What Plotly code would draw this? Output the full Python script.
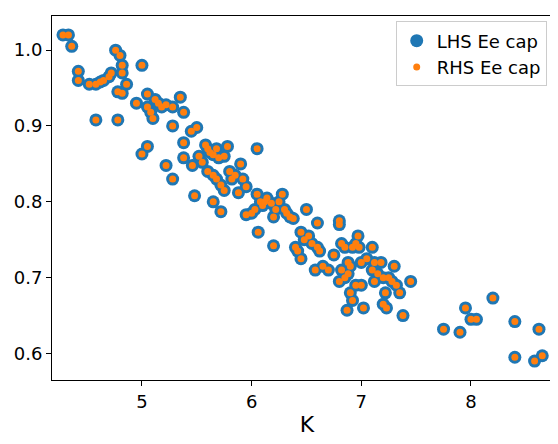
import plotly.graph_objects as go

pts = [(4.28,1.02),(4.33,1.02),(4.36,1.005),(4.42,0.972),(4.42,0.960),(4.52,0.955),(4.58,0.955),(4.62,0.958),(4.65,0.960),(4.70,0.965),(4.72,0.970),(4.76,1.0),(4.80,0.993),(4.82,0.98),(4.82,0.97),(4.86,0.955),(4.78,0.945),(4.82,0.943),(4.58,0.908),(4.78,0.908),(4.95,0.93),(5.0,0.98),(5.05,0.942),(5.05,0.925),(5.08,0.918),(5.10,0.91),(5.12,0.935),(5.15,0.93),(5.18,0.925),(5.22,0.928),(5.28,0.925),(5.35,0.938),(5.38,0.918),(5.28,0.9),(5.0,0.863),(5.05,0.873),(5.22,0.848),(5.28,0.83),(5.38,0.878),(5.38,0.858),(5.45,0.893),(5.5,0.898),(5.46,0.848),(5.48,0.808),(5.52,0.86),(5.55,0.852),(5.58,0.875),(5.6,0.87),(5.62,0.865),(5.65,0.862),(5.68,0.87),(5.7,0.858),(5.75,0.86),(5.78,0.873),(5.6,0.84),(5.65,0.835),(5.68,0.83),(5.72,0.822),(5.75,0.815),(5.8,0.84),(5.82,0.83),(5.85,0.835),(5.9,0.85),(5.92,0.83),(5.95,0.82),(5.65,0.80),(5.72,0.787),(5.88,0.812),(5.95,0.783),(6.0,0.785),(6.03,0.79),(6.05,0.81),(6.08,0.80),(6.05,0.87),(6.06,0.76),(6.1,0.795),(6.12,0.8),(6.14,0.805),(6.18,0.798),(6.2,0.78),(6.2,0.742),(6.22,0.79),(6.25,0.8),(6.28,0.81),(6.3,0.79),(6.32,0.785),(6.35,0.78),(6.38,0.778),(6.4,0.74),(6.42,0.735),(6.45,0.76),(6.48,0.75),(6.5,0.79),(6.45,0.725),(6.52,0.755),(6.55,0.745),(6.58,0.71),(6.6,0.772),(6.6,0.74),(6.62,0.735),(6.65,0.715),(6.7,0.71),(6.75,0.73),(6.8,0.775),(6.8,0.77),(6.82,0.745),(6.85,0.74),(6.88,0.72),(6.9,0.715),(6.92,0.74),(6.95,0.745),(6.97,0.755),(6.98,0.74),(7.0,0.72),(6.8,0.695),(6.82,0.71),(6.85,0.70),(6.88,0.705),(6.9,0.68),(6.92,0.67),(6.95,0.69),(7.0,0.69),(7.05,0.725),(7.1,0.71),(7.12,0.695),(7.15,0.705),(7.18,0.72),(7.2,0.70),(7.22,0.68),(7.25,0.70),(7.28,0.695),(7.3,0.715),(7.32,0.69),(7.35,0.68),(7.38,0.65),(7.45,0.695),(7.2,0.665),(7.23,0.66),(7.1,0.74),(7.12,0.72),(6.87,0.657),(7.02,0.66),(7.75,0.632),(7.9,0.628),(7.95,0.66),(8.0,0.645),(8.05,0.645),(8.2,0.673),(8.4,0.642),(8.4,0.595),(8.58,0.59),(8.62,0.632),(8.65,0.597)]
K = [p[0] for p in pts]
ee_lhs = [p[1] for p in pts]
ee_rhs = [p[1] for p in pts]

fig = go.Figure()
fig.add_trace(go.Scatter(x=K, y=ee_lhs, mode="markers", name="LHS Ee cap",
                         marker=dict(color="#1f77b4", size=13, line=dict(width=0))))
fig.add_trace(go.Scatter(x=K, y=ee_rhs, mode="markers", name="RHS Ee cap",
                         marker=dict(color="#ff7f0e", size=7, line=dict(width=0))))
ax = dict(showgrid=False, zeroline=False, showline=True, linecolor="black", linewidth=1,
          mirror=True, ticks="outside", ticklen=5, tickcolor="black", automargin=False)
fig.update_layout(
    width=558, height=444, plot_bgcolor="white", paper_bgcolor="white",
    font=dict(family="DejaVu Sans", size=18, color="black"),
    margin=dict(l=44, r=4, t=8, b=72),
    xaxis=dict(ax, range=[4.18, 8.83], tickvals=[5, 6, 7, 8],
               title=dict(text="K", standoff=6)),
    yaxis=dict(ax, range=[0.565, 1.045], tickvals=[0.6, 0.7, 0.8, 0.9, 1.0],
               tickformat=".1f"),
    legend=dict(x=0.97, y=0.985, xanchor="right", yanchor="top",
                bordercolor="#cccccc", borderwidth=1, bgcolor="rgba(255,255,255,0.8)",
                font=dict(size=18)),
)
fig.write_html("out.html")
